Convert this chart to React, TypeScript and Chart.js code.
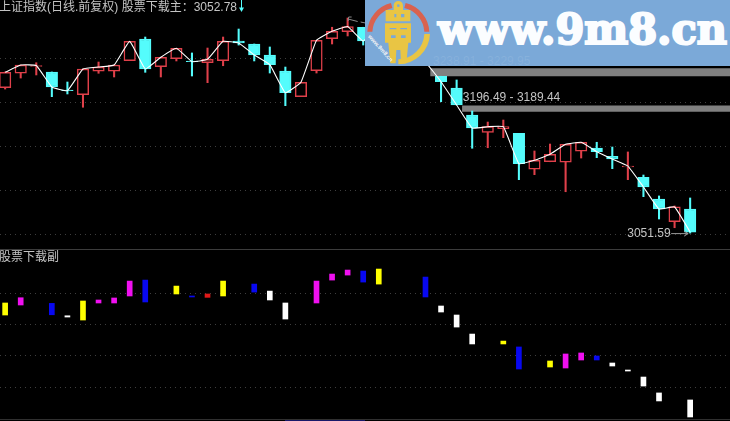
import React, { useEffect, useRef } from "react";
import { Chart, registerables } from "chart.js";

Chart.register(...registerables);

const TITLE_MAIN = "上证指数(日线.前复权) 股票下载主：3052.78";
const TITLE_SUB = "股票下载副";
const BAND_LABEL_A = "3238.91 - 3229.95";
const BAND_LABEL_B = "3196.49 - 3189.44";
const LOW_LABEL = "3051.59";
const SITE = "www.9m8.cn";

const opens = [3216.8,3233.2,3240.9,3234.7,3214.2,3208.9,3235.5,3235.5,3247.5,3272.2,3240.7,3249.8,3247.2,3245.2,3247.5,3269.9,3266.5,3254.0,3235.8,3206.6,3236.1,3272.5,3280.5,3285.5,3273.3,3282.4,3271.0,3265.3,3229.8,3216.5,3185.8,3166.1,3170.2,3165.0,3124.1,3132.7,3132.1,3144.6,3148.3,3138.9,3126.7,3115.0,3090.3,3064.6,3079.0];
const highs = [3234.7,3242.6,3245.2,3234.7,3223.3,3238.1,3246.0,3242.6,3269.5,3274.4,3251.4,3261.6,3256.3,3261.9,3274.4,3283.5,3266.5,3263.1,3240.3,3223.0,3270.7,3285.5,3296.0,3285.5,3291.5,3288.1,3276.7,3271.0,3229.8,3225.6,3190.3,3177.8,3180.1,3165.0,3144.9,3152.8,3152.5,3154.8,3154.8,3149.4,3143.8,3117.6,3093.8,3082.4,3091.5];
const lows = [3215.3,3227.8,3231.3,3206.6,3209.7,3194.6,3233.2,3229.0,3247.5,3234.3,3229.0,3247.2,3230.1,3222.5,3241.8,3265.3,3247.2,3233.5,3196.4,3206.6,3233.5,3266.5,3275.6,3265.3,3268.8,3265.3,3254.0,3242.6,3200.9,3197.2,3148.0,3148.6,3160.0,3112.3,3118.0,3132.7,3098.6,3136.9,3137.3,3124.8,3112.3,3093.0,3067.6,3057.7,3051.59];
const closes = [3234.3,3242.6,3242.0,3217.6,3213.4,3238.1,3240.3,3242.6,3269.5,3238.1,3251.4,3261.6,3246.4,3249.1,3269.5,3267.6,3254.0,3243.0,3211.1,3223.0,3270.7,3280.9,3286.4,3269.9,3288.1,3271.0,3259.7,3246.0,3223.6,3197.2,3171.0,3172.5,3172.5,3130.5,3134.3,3141.1,3152.5,3154.8,3144.1,3135.8,3127.8,3104.0,3079.0,3081.3,3052.78];

const subTop = [67.3,71.5,null,67.0,57.1,68.9,69.7,71.3,84.8,85.6,null,80.8,72.9,74.5,84.8,null,82.4,76.8,67.3,null,84.8,90.4,93.6,92.8,94.4,null,null,88.0,64.9,57.7,42.5,null,36.9,32.2,null,21.0,26.6,27.4,25.0,19.4,13.8,8.2,-4.5,null,-10.1];
const subBottom = [57.7,65.7,null,57.9,56.1,53.7,67.3,67.3,72.9,68.1,null,74.5,72.1,71.8,72.9,null,76.0,69.7,54.5,null,67.3,85.6,89.6,84.0,82.4,null,null,72.1,60.1,48.1,34.6,null,34.6,14.6,null,16.2,15.4,21.8,21.8,17.0,13.0,1.0,-10.9,null,-23.7];
const subKinds = ["y","m","","b","w","y","m","m","m","b","","y","b","r","y","","b","w","w","","m","m","m","b","y","","","b","w","w","w","","y","b","","y","m","m","b","w","w","w","w","","w"];

const priceGrid = [3050, 3100, 3150, 3200, 3250];
const subGrid = [0, 25, 50, 75];
const bandA = [3238.91, 3229.95];
const bandB = [3196.49, 3189.44];

const RED = "#e0404a";
const CYAN = "#54fcfc";
const TEXT = "#c4c4c4";
const GRID = "#3e3e3e";
const KIND_COLORS: Record<string, string> = { y: "#ffff00", m: "#f010f0", b: "#0808f0", w: "#ffffff", r: "#e01818", "": "#000000" };
const FONT = '12px "Liberation Sans", "Noto Sans CJK SC", sans-serif';

const X_MIN = -0.33;
const X_MAX = 46.56;

const idx = closes.map((_, i) => i);
const isUp = idx.map((i) => closes[i] >= opens[i]);

const xScale = { type: "linear", min: X_MIN, max: X_MAX, display: false, offset: false };
const yScale = (min: number, max: number, grid: number[]) => ({
  type: "linear",
  min,
  max,
  position: "left",
  afterBuildTicks: (s: any) => {
    s.ticks = grid.map((value) => ({ value }));
  },
  ticks: { display: false },
  grid: { color: GRID, lineWidth: 1, drawTicks: false },
  border: { display: false, dash: [1, 4] },
  afterFit: (s: any) => {
    s.width = 0;
  },
});

const baseOptions = {
  responsive: false,
  animation: false as const,
  devicePixelRatio: 1,
  layout: { padding: 0 },
  plugins: { legend: { display: false }, tooltip: { enabled: false }, title: { display: false } },
  events: [] as any[],
};

const topLabels = {
  id: "topLabels",
  afterDatasetsDraw(chart: any) {
    const { ctx, scales } = chart;
    const x = scales.x;
    const y = scales.y;
    ctx.save();
    ctx.font = FONT;
    ctx.textBaseline = "middle";
    ctx.fillStyle = TEXT;
    ctx.fillText(TITLE_MAIN, -1, 8);
    ctx.fillText(BAND_LABEL_B, x.getPixelForValue(29.4), y.getPixelForValue(bandB[0]) - 8);
    const lowX = x.getPixelForValue(44);
    const lowY = y.getPixelForValue(3051.59);
    ctx.textAlign = "right";
    ctx.fillText(LOW_LABEL, lowX - 19.5, lowY + 1);
    ctx.strokeStyle = "#9a9a9a";
    ctx.lineWidth = 1;
    ctx.beginPath();
    ctx.moveTo(lowX - 19, lowY + 0.5);
    ctx.lineTo(lowX - 2, lowY + 0.5);
    ctx.moveTo(lowX - 6, lowY - 2);
    ctx.lineTo(lowX - 2, lowY + 0.5);
    ctx.lineTo(lowX - 6, lowY + 3);
    ctx.stroke();
    // high marker of the peak candle, running under the watermark
    const hx = x.getPixelForValue(22);
    const hy = y.getPixelForValue(highs[22]);
    ctx.strokeStyle = "#8a8a8a";
    ctx.beginPath();
    ctx.moveTo(hx + 4, hy - 1);
    ctx.lineTo(hx + 1, hy - 1);
    ctx.lineTo(hx + 0.5, hy + 3);
    ctx.moveTo(hx + 0.5, hy + 1);
    ctx.lineTo(hx + 10, hy + 3.5);
    ctx.moveTo(hx + 13, hy + 4);
    ctx.lineTo(hx + 18, hy + 5);
    ctx.stroke();
    // cyan marker after the title
    ctx.fillStyle = CYAN;
    ctx.strokeStyle = CYAN;
    const ax = 241.5;
    ctx.beginPath();
    ctx.moveTo(ax, 0);
    ctx.lineTo(ax, 8);
    ctx.stroke();
    ctx.beginPath();
    ctx.moveTo(ax - 2.5, 7.5);
    ctx.lineTo(ax + 2.5, 7.5);
    ctx.lineTo(ax, 12);
    ctx.closePath();
    ctx.fill();
    ctx.restore();
  },
};

const subLabels = {
  id: "subLabels",
  afterDatasetsDraw(chart: any) {
    const { ctx } = chart;
    ctx.save();
    ctx.font = FONT;
    ctx.textBaseline = "middle";
    ctx.fillStyle = TEXT;
    ctx.fillText(TITLE_SUB, -1, 9);
    ctx.restore();
  },
};

const bandDataset = (from: number, value: number, fill: any) => ({
  type: "line",
  data: [
    { x: from, y: value },
    { x: X_MAX, y: value },
  ],
  borderWidth: 0,
  borderColor: "#808080",
  backgroundColor: "#808080",
  pointRadius: 0,
  fill,
  order: 5,
});

export default function App() {
  const topRef = useRef<HTMLCanvasElement>(null);
  const subRef = useRef<HTMLCanvasElement>(null);

  useEffect(() => {
    const top = new Chart(topRef.current as any, {
      type: "bar",
      data: {
        datasets: [
          bandDataset(27.3, bandA[0], "+1"),
          bandDataset(27.3, bandA[1], false),
          bandDataset(29.35, bandB[0], "+1"),
          bandDataset(29.35, bandB[1], false),
          {
            type: "bar",
            data: idx.map((i) => ({ x: i, y: [lows[i], highs[i]] })),
            backgroundColor: idx.map((i) => (isUp[i] ? RED : CYAN)),
            barThickness: 1.4,
            grouped: false,
            order: 3,
          },
          {
            type: "bar",
            data: idx.map((i) => ({ x: i, y: [opens[i], closes[i]] })),
            backgroundColor: idx.map((i) => (isUp[i] ? "#000000" : CYAN)),
            borderColor: idx.map((i) => (isUp[i] ? RED : CYAN)),
            borderWidth: 1.5,
            borderSkipped: false,
            barThickness: 11.5,
            grouped: false,
            order: 2,
          },
          {
            type: "line",
            data: idx.map((i) => ({ x: i, y: closes[i] })),
            borderColor: "#ffffff",
            borderWidth: 1.1,
            pointRadius: 0,
            tension: 0.1,
            fill: false,
            order: 1,
          },
        ] as any,
      },
      options: {
        ...baseOptions,
        scales: { x: xScale, y: yScale(3033.52, 3316.48, priceGrid) },
      } as any,
      plugins: [topLabels],
    });

    const sub = new Chart(subRef.current as any, {
      type: "bar",
      data: {
        datasets: [
          {
            type: "bar",
            data: idx
              .filter((i) => subTop[i] !== null)
              .map((i) => ({ x: i, y: [subBottom[i], subTop[i]] })),
            backgroundColor: idx.filter((i) => subTop[i] !== null).map((i) => KIND_COLORS[subKinds[i]]),
            barThickness: 5,
            grouped: false,
          },
        ] as any,
      },
      options: {
        ...baseOptions,
        scales: { x: xScale, y: yScale(-26.9, 110.4, subGrid) },
      } as any,
      plugins: [subLabels],
    });

    return () => {
      top.destroy();
      sub.destroy();
    };
  }, []);

  return (
    <div style={{ position: "fixed", left: 0, top: 0, width: 730, height: 421, background: "#000", overflow: "hidden" }}>
      <canvas ref={topRef} width={730} height={249} style={{ position: "absolute", left: 0, top: 0, width: 730, height: 249 }} />
      <canvas ref={subRef} width={730} height={172} style={{ position: "absolute", left: 0, top: 249, width: 730, height: 172 }} />
      <div style={{ position: "absolute", left: 0, top: 249, width: 730, height: 1, background: "#3c3c3c" }} />
      <div style={{ position: "absolute", left: 0, top: 419, width: 730, height: 1, background: "#303030" }} />
      <div style={{ position: "absolute", left: 285, top: 420, width: 80, height: 1, background: "#18186a" }} />
      <svg width={365} height={66} viewBox="365 0 365 66" style={{ position: "absolute", left: 365, top: 0 }}>
        <rect x={365} y={0} width={365} height={66} fill="#7ba9d8" />
        <g transform="translate(365,0) scale(0.3333)">
          <path d="M 7 95 A 93 93 0 0 1 78 9 L 82 24 A 78 78 0 0 0 22 95 Z" fill="#d9624f" />
          <path d="M 193 95 A 93 93 0 0 0 122 9 L 118 24 A 78 78 0 0 1 178 95 Z" fill="#d9624f" />
          <path d="M 195 102 A 95 95 0 0 1 100 193 L 100 178 A 80 80 0 0 0 178 102 Z" fill="#e9c544" />
          <path fillRule="evenodd" fill="#e9c544" d="M 100 3 A 14 14 0 0 1 114 17 L 114 30 L 136 30 L 136 64 L 62 64 L 62 30 L 86 30 L 86 17 A 14 14 0 0 1 100 3 Z M 100 13 A 4 4 0 1 0 100 21 A 4 4 0 1 0 100 13 Z M 88 42 L 88 52 L 94 52 L 94 42 Z M 108 42 L 108 52 L 118 52 L 118 42 Z" />
          <path fillRule="evenodd" fill="#e9c544" d="M 60 70 L 138 70 L 138 128 L 130 128 L 124 190 L 76 190 L 70 128 L 60 128 Z M 74 84 L 74 88 L 94 88 L 94 84 Z M 106 84 L 106 88 L 126 88 L 126 84 Z M 78 106 L 78 114 L 92 114 L 92 106 Z M 108 106 L 108 114 L 122 114 L 122 106 Z M 94 150 L 92 190 L 108 190 L 106 150 Z" />
          <text x={8} y={110} fontSize={17} fontFamily='"Liberation Sans", sans-serif' fontWeight={700} fill="#f4f4f4" transform="rotate(48 8 110)">{SITE}</text>
        </g>
        <text x={438} y={44} textLength={289} lengthAdjust="spacingAndGlyphs" fontFamily='"DejaVu Serif", serif' fontWeight={700} fontSize={42} fill="#fbfdff" stroke="#fbfdff" strokeWidth={2.2}>
          {SITE}
        </text>
        <text x={433} y={65} fontFamily='"Liberation Sans", sans-serif' fontSize={12} fill="#ffffff" fillOpacity={0.1}>
          {BAND_LABEL_A}
        </text>
      </svg>
    </div>
  );
}
